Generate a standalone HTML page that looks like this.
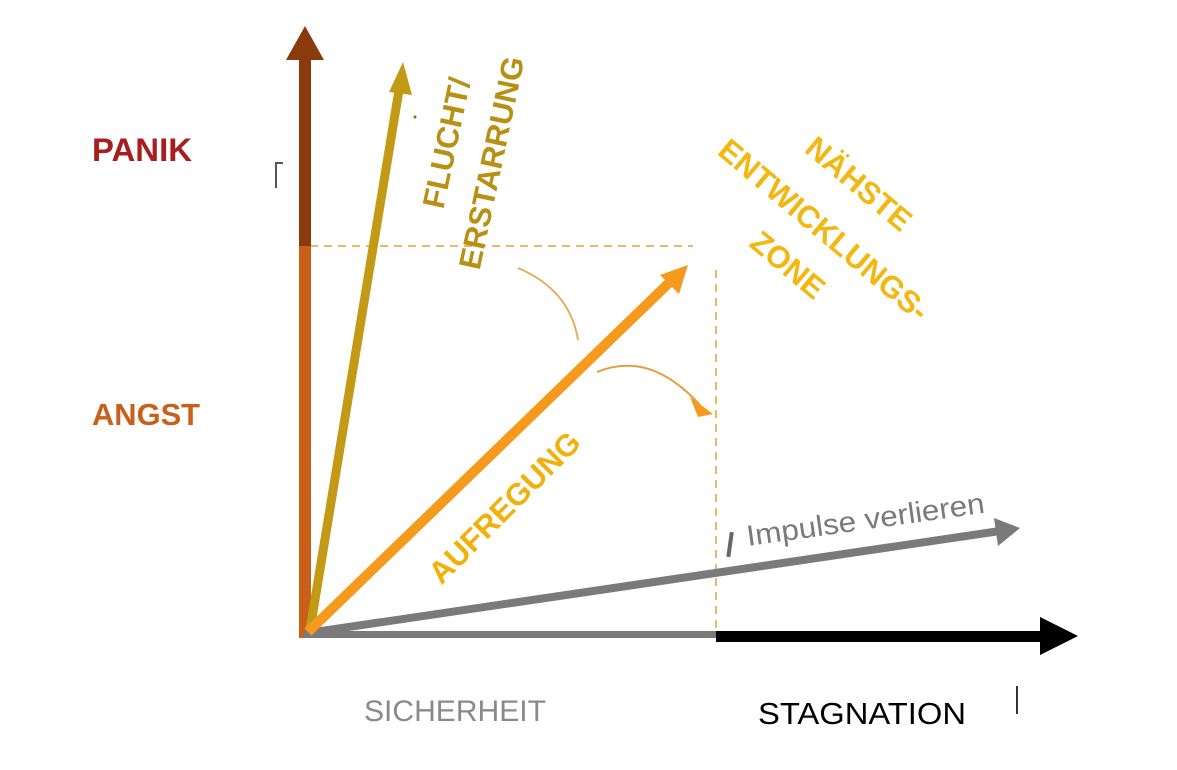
<!DOCTYPE html>
<html><head><meta charset="utf-8"><style>
html,body{margin:0;padding:0;background:#fff;}
svg{display:block;}
text{font-family:"Liberation Sans",sans-serif;}
</style></head><body>
<svg width="1177" height="770" viewBox="0 0 1177 770" xmlns="http://www.w3.org/2000/svg">
<line x1="310" y1="246" x2="693" y2="246" stroke="#E8B968" stroke-width="2" stroke-dasharray="8,6"/>
<line x1="716" y1="270" x2="716" y2="636" stroke="#E8B968" stroke-width="2" stroke-dasharray="8,6"/>
<rect x="299" y="246" width="12" height="392" fill="#C8601A"/>
<rect x="299" y="58" width="12" height="188" fill="#8B3A0E"/>
<polygon points="305,26 286,60 324,60" fill="#8B3A0E"/>
<rect x="304" y="631" width="412" height="7" fill="#7a7a7a"/>
<rect x="716" y="631" width="330" height="11" fill="#000"/>
<polygon points="1078,636 1040,617 1040,655" fill="#000"/>
<line x1="308" y1="633" x2="1000" y2="531" stroke="#7a7a7a" stroke-width="8"/>
<polygon points="1020,528 994,518 998,546" fill="#7a7a7a"/>
<line x1="310" y1="630" x2="399" y2="90" stroke="#C39A16" stroke-width="9"/>
<polygon points="403,62 389,92 412,95" fill="#C39A16"/>
<line x1="308" y1="632" x2="672" y2="280" stroke="#F59A1C" stroke-width="10"/>
<polygon points="688,265 660,275 679,294" fill="#F59A1C"/>
<path d="M518,268 Q570,290 578,340" fill="none" stroke="#E3B060" stroke-width="2"/>
<path d="M597,372 Q650,350 700,405" fill="none" stroke="#E3A040" stroke-width="2"/>
<polygon points="713,414 690,397 698,417" fill="#F59A1C"/>
<rect x="728" y="532" width="4" height="25" fill="#666" transform="rotate(8 730 545)"/>
<rect x="1016" y="686" width="2" height="28" fill="#333"/>
<path d="M276,188 L276,163 L283,163" fill="none" stroke="#555" stroke-width="2"/>
<circle cx="415" cy="117" r="1.5" fill="#8a6a10"/>
<text x="92" y="161" font-size="32" font-weight="bold" fill="#A81E1E" textLength="100" lengthAdjust="spacingAndGlyphs">PANIK</text>
<text x="92" y="425" font-size="31" font-weight="bold" fill="#C8601A" textLength="108" lengthAdjust="spacingAndGlyphs">ANGST</text>
<text x="364" y="721" font-size="30" fill="#8a8a8a" textLength="182" lengthAdjust="spacingAndGlyphs">SICHERHEIT</text>
<text x="758" y="724" font-size="31" fill="#000" textLength="208" lengthAdjust="spacingAndGlyphs">STAGNATION</text>
<text x="748" y="546" font-size="29" fill="#7a7a7a" transform="rotate(-8 748 546)" textLength="240" lengthAdjust="spacingAndGlyphs">Impulse verlieren</text>
<text x="0" y="0" font-size="31" font-weight="bold" fill="#F2B10A" text-anchor="middle" transform="translate(512,515) rotate(-45)">AUFREGUNG</text>
<text x="0" y="0" font-size="31" font-weight="bold" fill="#B89014" text-anchor="middle" transform="translate(457,145) rotate(-78)">FLUCHT/</text>
<text x="0" y="0" font-size="31" font-weight="bold" fill="#B89014" text-anchor="middle" transform="translate(502,165) rotate(-78)">ERSTARRUNG</text>
<text x="0" y="0" font-size="31" font-weight="bold" fill="#F2B811" text-anchor="middle" transform="translate(852,192) rotate(40)">NÄHSTE</text>
<text x="0" y="0" font-size="31" font-weight="bold" fill="#F2B811" text-anchor="middle" transform="translate(817,238) rotate(40)">ENTWICKLUNGS-</text>
<text x="0" y="0" font-size="31" font-weight="bold" fill="#F2B811" text-anchor="middle" transform="translate(781,273) rotate(40)">ZONE</text>
</svg>
</body></html>
